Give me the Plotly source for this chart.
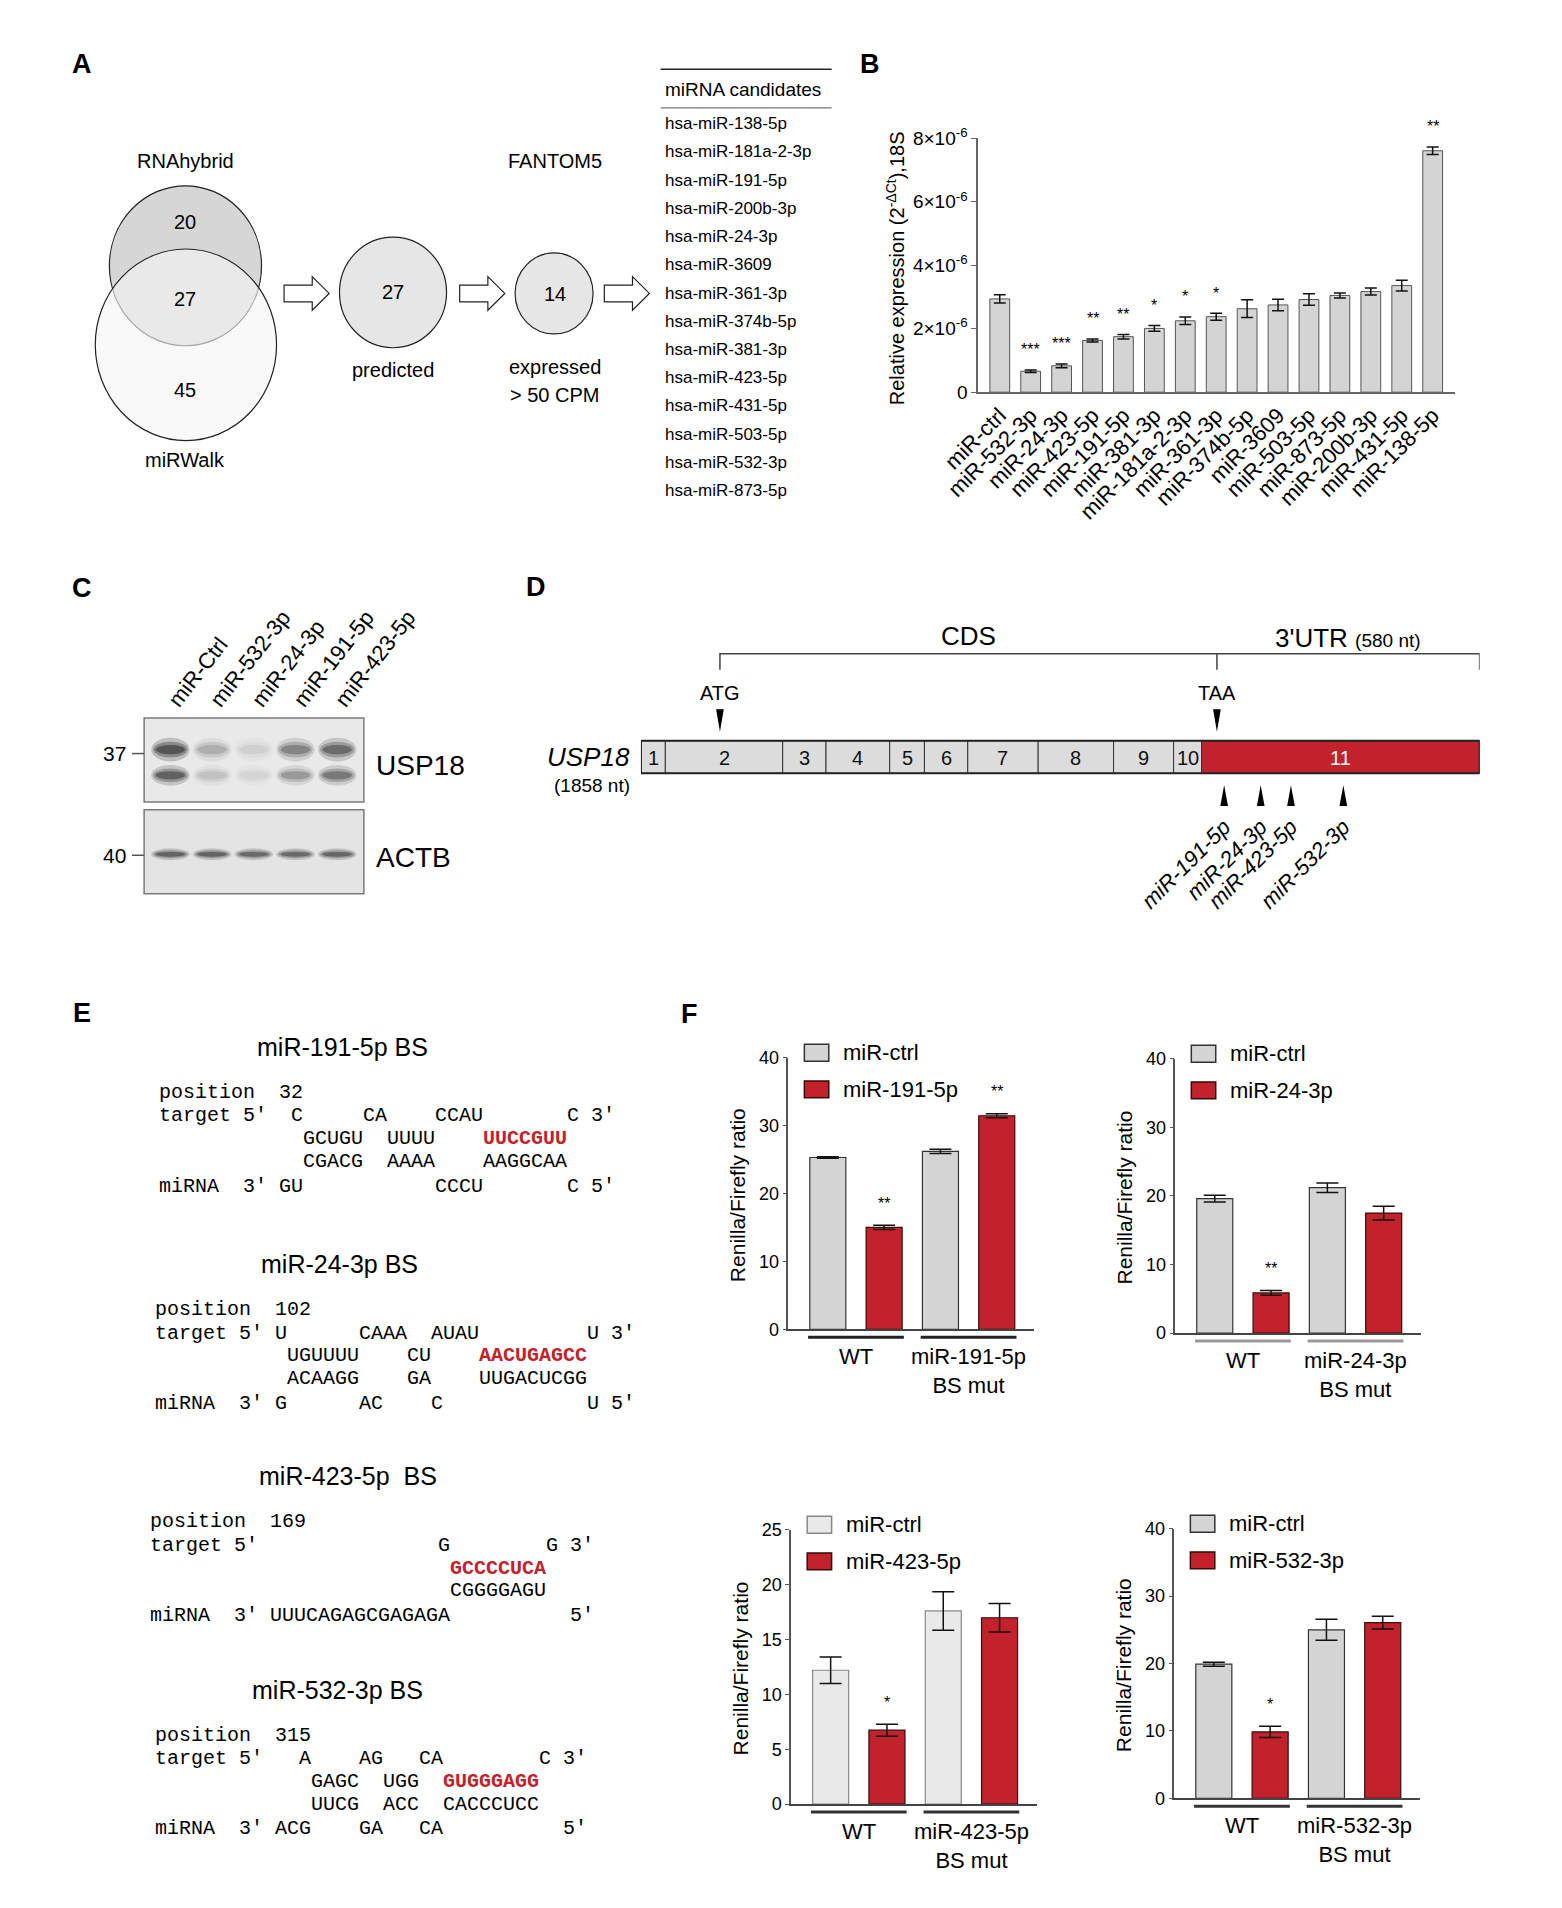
import plotly.graph_objects as go

W, H = 1562, 1908
FONT = "Liberation Sans, Arial, sans-serif"
MONO = "Liberation Mono, Courier New, monospace"
RED = "#c1222b"
GREY = "#d4d4d4"


def px(x):
    return x / W


def py(y):
    return 1 - y / H


#-------------- A: Venn / filtering
venn_counts = [20, 27, 45]          # RNAhybrid only, both, miRWalk only
n_predicted = 27
n_expressed = 14
candidates = ["hsa-miR-138-5p", "hsa-miR-181a-2-3p", "hsa-miR-191-5p", "hsa-miR-200b-3p",
              "hsa-miR-24-3p", "hsa-miR-3609", "hsa-miR-361-3p", "hsa-miR-374b-5p",
              "hsa-miR-381-3p", "hsa-miR-423-5p", "hsa-miR-431-5p", "hsa-miR-503-5p",
              "hsa-miR-532-3p", "hsa-miR-873-5p"]

#-------------- B: qPCR (x 1e-6)
b_names = ["miR-ctrl", "miR-532-3p", "miR-24-3p", "miR-423-5p", "miR-191-5p", "miR-381-3p",
           "miR-181a-2-3p", "miR-361-3p", "miR-374b-5p", "miR-3609", "miR-503-5p",
           "miR-873-5p", "miR-200b-3p", "miR-431-5p", "miR-138-5p"]
b_mean = [2.94, 0.66, 0.83, 1.63, 1.75, 2.01, 2.25, 2.38, 2.63, 2.75, 2.92, 3.05, 3.17, 3.36, 7.61]
b_err = [0.13, 0.04, 0.06, 0.05, 0.07, 0.09, 0.12, 0.11, 0.28, 0.18, 0.18, 0.08, 0.11, 0.17, 0.12]
b_sig = ["", "***", "***", "**", "**", "*", "*", "*", "", "", "", "", "", "", "**"]
b_ticks = [0, 2, 4, 6, 8]

#-------------- C: western blot
lanes = ["miR-Ctrl", "miR-532-3p", "miR-24-3p", "miR-191-5p", "miR-423-5p"]
usp18_upper = [1.0, 0.32, 0.12, 0.6, 0.8]
usp18_lower = [0.88, 0.2, 0.1, 0.45, 0.68]
actb_band = [0.85, 0.85, 0.8, 0.8, 0.82]

#-------------- D: USP18 transcript (nt)
gene_len = 1858
utr_len = 580
exon_bounds = [0, 54, 314, 410, 551, 628, 724, 880, 1047, 1180, 1242, 1858]
atg_nt = 175
taa_nt = 1276
bs_names = ["miR-191-5p", "miR-24-3p", "miR-423-5p", "miR-532-3p"]
bs_nt = [1292, 1373, 1440, 1556]

#-------------- E: binding sites (column, text)
bs_titles = ["miR-191-5p BS", "miR-24-3p BS", "miR-423-5p\u00a0\u00a0BS", "miR-532-3p BS"]
bs_pos = ["32", "102", "169", "315"]
bs_target = [
    [(7, "5'"), (11, "C"), (17, "CA"), (23, "CCAU"), (34, "C"), (36, "3'")],
    [(7, "5'"), (10, "U"), (17, "CAAA"), (23, "AUAU"), (36, "U"), (38, "3'")],
    [(7, "5'"), (24, "G"), (33, "G"), (35, "3'")],
    [(7, "5'"), (12, "A"), (17, "AG"), (22, "CA"), (32, "C"), (34, "3'")],
]
bs_pair_t = [
    [(12, "GCUGU"), (19, "UUUU"), (27, "UUCCGUU")],
    [(11, "UGUUUU"), (21, "CU"), (27, "AACUGAGCC")],
    [(25, "GCCCCUCA")],
    [(13, "GAGC"), (19, "UGG"), (24, "GUGGGAGG")],
]
bs_pair_m = [
    [(12, "CGACG"), (19, "AAAA"), (27, "AAGGCAA")],
    [(11, "ACAAGG"), (21, "GA"), (27, "UUGACUCGG")],
    [(25, "CGGGGAGU")],
    [(13, "UUCG"), (19, "ACC"), (24, "CACCCUCC")],
]
bs_mirna = [
    [(7, "3'"), (10, "GU"), (23, "CCCU"), (34, "C"), (36, "5'")],
    [(7, "3'"), (10, "G"), (17, "AC"), (23, "C"), (36, "U"), (38, "5'")],
    [(7, "3'"), (10, "UUUCAGAGCGAGAGA"), (35, "5'")],
    [(7, "3'"), (10, "ACG"), (17, "GA"), (22, "CA"), (34, "5'")],
]
bs_seed = ["UUCCGUU", "AACUGAGCC", "GCCCCUCA", "GUGGGAGG"]

#-------------- F: luciferase
f_groups = ["WT", "BS mut"]
f_mirs = ["miR-191-5p", "miR-24-3p", "miR-423-5p", "miR-532-3p"]
f_ctrl = [[25.3, 26.2], [19.6, 21.2], [12.2, 17.6], [19.9, 25.0]]
f_ctrl_err = [[0.1, 0.3], [0.5, 0.7], [1.2, 1.75], [0.3, 1.55]]
f_mir = [[15.0, 31.45], [5.86, 17.5], [6.74, 16.98], [9.85, 26.05]]
f_mir_err = [[0.3, 0.3], [0.35, 1.0], [0.55, 1.3], [0.85, 0.95]]
f_sig = [["**", "**"], ["**", ""], ["*", ""], ["*", ""]]
f_ymax = [40, 40, 25, 40]
f_dtick = [10, 10, 5, 10]


shapes = []
annotations = []
traces = []


def text(x, y, s, size=20, xanchor="center", yanchor="middle", color="black",
         angle=0, family=FONT, xref="paper", yref="paper", **kw):
    annotations.append(dict(
        x=px(x) if xref == "paper" else x, y=py(y) if yref == "paper" else y,
        xref=xref, yref=yref, text=s, showarrow=False, xanchor=xanchor, yanchor=yanchor,
        textangle=angle, font=dict(size=size, color=color, family=family), **kw))


def rect(x0, y0, x1, y1, fill, line="#333", lw=1, kind="rect"):
    shapes.append(dict(type=kind, xref="paper", yref="paper",
                       x0=px(x0), x1=px(x1), y0=py(y1), y1=py(y0),
                       fillcolor=fill, line=dict(color=line, width=lw)))


def hline(x0, x1, y, color="#333", lw=1.5):
    shapes.append(dict(type="line", xref="paper", yref="paper",
                       x0=px(x0), x1=px(x1), y0=py(y), y1=py(y),
                       line=dict(color=color, width=lw)))


#---------------- panel letters
for lab, lx, ly in [("A", 47, 52), ("B", 886, 52), ("C", 47, 582),
                    ("D", 530, 581), ("E", 47, 1013), ("F", 694, 1014)]:
    text(lx, ly, "<b>%s</b>" % lab, size=27)

#---------------- A
rect(76, 175, 238, 337, "#d6d6d6", line="#222", lw=1.2, kind="circle")
rect(61, 239, 254, 433, "rgba(245,245,245,0.62)", line="#222", lw=1.2, kind="circle")
text(157, 150, "RNAhybrid")
text(157, 453, "miRWalk")
text(157, 212, str(venn_counts[0]))
text(157, 290, str(venn_counts[1]))
text(157, 382, str(venn_counts[2]))

rect(321, 227, 435, 339, "#e6e6e6", line="#222", lw=1.2, kind="circle")
text(378, 283, str(n_predicted))
text(378, 362, "predicted")
rect(508, 243, 591, 325, "#e6e6e6", line="#222", lw=1.2, kind="circle")
text(550, 285, str(n_expressed))
text(550, 150, "FANTOM5")
text(550, 359, "expressed")
text(550, 387, "&gt; 50 CPM")

for ax0 in [262, 449, 603]:
    yc = 284
    pts = [(ax0, yc - 8.5), (ax0 + 30, yc - 8.5), (ax0 + 30, yc - 17), (ax0 + 48, yc),
           (ax0 + 30, yc + 17), (ax0 + 30, yc + 8.5), (ax0, yc + 8.5)]
    path = "M " + " L ".join("%.5f,%.5f" % (px(a), py(b)) for a, b in pts) + " Z"
    shapes.append(dict(type="path", xref="paper", yref="paper", path=path,
                       fillcolor="white", line=dict(color="#222", width=1.2)))

hline(663, 845, 57, color="#222", lw=1.5)
hline(663, 845, 96, color="#777", lw=1.2)
text(666, 77, "miRNA candidates", size=19, xanchor="left")
for i, name in enumerate(candidates):
    text(666, 112 + 28.6 * i, name, size=17, xanchor="left")

#---------------- B
traces.append(go.Bar(
    x=b_names, y=[v * 1e-6 for v in b_mean],
    error_y=dict(type="data", array=[e * 1e-6 for e in b_err], color="#111", thickness=1.5, width=6),
    marker=dict(color=GREY, line=dict(color="#555", width=1)),
    xaxis="x", yaxis="y", hoverinfo="skip"))
for name, m, e, s in zip(b_names, b_mean, b_err, b_sig):
    if s:
        text(name, (m + e) * 1e-6, s, size=16, xref="x", yref="y", yshift=20)
text(913, 258, "Relative expression (2<sup>-ΔCt</sup>),18S", size=20, angle=-90)

#---------------- C
traces.append(go.Scatter(x=lanes, y=[0.5] * len(lanes), mode="markers",
                         marker=dict(opacity=0), xaxis="x6", yaxis="y6", hoverinfo="skip"))
rect(113, 714, 347, 799, "#e9e9e9", line="#7a7a7a", lw=1.5)
rect(113, 807, 347, 892, "#e4e4e4", line="#7a7a7a", lw=1.5)


def band(i, yc, inten, h):
    for hw, hh, op in [(0.46, h * 1.5, 0.2), (0.41, h, 0.3), (0.35, h * 0.6, 0.45)]:
        shapes.append(dict(type="circle", xref="x6", yref="paper",
                           x0=i - hw, x1=i + hw, y0=py(yc + hh / 2), y1=py(yc - hh / 2),
                           fillcolor="#151515", opacity=op * inten, line=dict(width=0)))


for i in range(len(lanes)):
    band(i, 746, usp18_upper[i], 16)
    band(i, 772, usp18_lower[i], 14)
    band(i, 852, actb_band[i], 8)

hline(100, 113, 750, color="#555", lw=1.5)
hline(100, 113, 853, color="#555", lw=1.5)
text(96, 750, "37", size=21, xanchor="right")
text(96, 853, "40", size=21, xanchor="right")
text(358, 762, "USP18", size=28, xanchor="left")
text(358, 855, "ACTB", size=28, xanchor="left")

#---------------- D
traces.append(go.Scatter(x=bs_nt, y=[0.5] * len(bs_nt), mode="markers",
                         marker=dict(opacity=0), xaxis="x7", yaxis="y7", hoverinfo="skip"))
for i in range(len(exon_bounds) - 1):
    last = i == len(exon_bounds) - 2
    shapes.append(dict(type="rect", xref="x7", yref="paper",
                       x0=exon_bounds[i], x1=exon_bounds[i + 1], y0=py(770), y1=py(737),
                       fillcolor=RED if last else "#dcdcdc", line=dict(color="#333", width=1)))
    text((exon_bounds[i] + exon_bounds[i + 1]) / 2, 754, str(i + 1), size=20,
         color="white" if last else "#111", xref="x7")
shapes.append(dict(type="rect", xref="x7", yref="paper", x0=0, x1=gene_len,
                   y0=py(770), y1=py(737), line=dict(color="#222", width=2)))

tri = 8.5
for x in [atg_nt, taa_nt]:
    shapes.append(dict(type="path", xref="x7", yref="paper",
                       path="M %.1f,%.5f L %.1f,%.5f L %.1f,%.5f Z" % (
                           x - tri, py(705), x + tri, py(705), x, py(728)),
                       fillcolor="black", line=dict(width=0)))
for x in bs_nt:
    shapes.append(dict(type="path", xref="x7", yref="paper",
                       path="M %.1f,%.5f L %.1f,%.5f L %.1f,%.5f Z" % (
                           x - tri, py(803), x + tri, py(803), x, py(782)),
                       fillcolor="black", line=dict(width=0)))
shapes.append(dict(type="path", xref="x7", yref="paper",
                   path="M %d,%.5f L %d,%.5f L %d,%.5f L %d,%.5f M %d,%.5f L %d,%.5f" % (
                       atg_nt, py(665), atg_nt, py(649), gene_len, py(649), gene_len, py(665),
                       taa_nt, py(649), taa_nt, py(665)),
                   line=dict(color="#444", width=1.5)))
text((atg_nt + taa_nt) / 2, 631, "CDS", size=26, xref="x7")
text((taa_nt + gene_len) / 2, 633,
     "3'UTR <span style='font-size:19px'>(%d nt)</span>" % utr_len, size=26, xref="x7")
text(atg_nt, 689, "ATG", size=20, xref="x7")
text(taa_nt, 689, "TAA", size=20, xref="x7")
text(632, 753, "<i>USP18</i>", size=26, xanchor="right")
text(632, 782, "(%d nt)" % gene_len, size=19, xanchor="right")

#---------------- E
def mono_row(tokens, seed=None):
    out, cur = "", 0
    for col, tok in tokens:
        out += "\u00a0" * max(col - cur, 0)
        out += ("<span style='color:%s'><b>%s</b></span>" % (RED, tok)) if tok == seed else tok
        cur = col + len(tok)
    return out


e_title_y = [1047, 1267, 1482, 1698]
e_title_x = [324, 321, 330, 319]
e_left = [127, 122, 117, 122]
row_dy = [46, 70, 93, 116, 141]
for k in range(4):
    text(e_title_x[k], e_title_y[k], bs_titles[k], size=25)
    rows = [
        [(0, "position"), (10, bs_pos[k])],
        [(0, "target")] + bs_target[k],
        bs_pair_t[k],
        bs_pair_m[k],
        [(0, "miRNA")] + bs_mirna[k],
    ]
    for r, dy in zip(rows, row_dy):
        text(e_left[k], e_title_y[k] + dy, mono_row(r, bs_seed[k]), size=20,
             xanchor="left", family=MONO, color="#000")

#---------------- F
f_left = [799, 1211, 802, 1210]
f_zero = [1333, 1337, 1814, 1808]
f_top = [1058, 1059, 1536, 1535]
f_ctrl_fill = [GREY, GREY, "#e9e9e9", GREY]
f_ctrl_line = ["#333", "#333", "#888", "#333"]
f_under = ["#222", "#999", "#333", "#333"]
f_width = 262
f_range = [-0.6, 1.585]
unit = f_width / (f_range[1] - f_range[0])

axes = {}
for k in range(4):
    n = k + 2
    ax, ay = "x%d" % n, "y%d" % n
    err_style = dict(type="data", color="#111", thickness=1.5, width=11)
    traces.append(go.Bar(x=f_groups, y=f_ctrl[k], error_y=dict(array=f_ctrl_err[k], **err_style),
                         marker=dict(color=f_ctrl_fill[k], line=dict(color=f_ctrl_line[k], width=1.2)),
                         xaxis=ax, yaxis=ay, hoverinfo="skip"))
    traces.append(go.Bar(x=f_groups, y=f_mir[k], error_y=dict(array=f_mir_err[k], **err_style),
                         marker=dict(color=RED, line=dict(color="#3a0b0b", width=1.2)),
                         xaxis=ax, yaxis=ay, hoverinfo="skip"))
    axes["xaxis%d" % n] = dict(domain=[px(f_left[k]), px(f_left[k] + f_width)], anchor=ay,
                               range=f_range, showticklabels=False, ticks="", showline=True,
                               linecolor="#444", linewidth=2, showgrid=False, zeroline=False)
    axes["yaxis%d" % n] = dict(domain=[py(f_zero[k]), py(f_top[k])], anchor=ax,
                               range=[0, f_ymax[k]], dtick=f_dtick[k], ticks="outside", ticklen=4,
                               tickcolor="#555", showline=True, linecolor="#555", linewidth=1.5,
                               showgrid=False, zeroline=False, tickfont=dict(size=18))
    for g, (m, e, s) in enumerate(zip(f_mir[k], f_mir_err[k], f_sig[k])):
        if s:
            annotations.append(dict(x=g + 0.25, y=m + e, xref=ax, yref=ay, text=s, showarrow=False,
                                    yshift=22, font=dict(size=16, family=FONT, color="black")))
    # group underlines and labels
    for g, lab in enumerate(["WT", "%s<br>BS mut" % f_mirs[k]]):
        cx = f_left[k] + (g - f_range[0]) * unit
        hline(cx - 51, cx + 51, f_zero[k] + 8, color=f_under[k], lw=3)
        text(cx, f_zero[k] + 13, lab, size=22, yanchor="top")
    # legend
    lx = f_left[k]
    for j, (fill, line, lab) in enumerate([(f_ctrl_fill[k], f_ctrl_line[k], "miR-ctrl"),
                                           (RED, "#3a0b0b", f_mirs[k])]):
        cy = f_top[k] - 5 + 37 * j
        rect(lx + 17, cy - 8.5, lx + 43, cy + 8.5, fill, line=line, lw=1.5)
        text(lx + 56, cy, lab, size=22, xanchor="left")
    text(f_left[k] - 54, (f_zero[k] + f_top[k]) / 2 + 2, "Renilla/Firefly ratio", size=21, angle=-90)


fig = go.Figure(data=traces)
fig.update_layout(
    width=W, height=H, margin=dict(l=0, r=0, t=0, b=0),
    paper_bgcolor="white", plot_bgcolor="white",
    font=dict(family=FONT, size=18, color="black"),
    showlegend=False, barmode="group", bargap=0, bargroupgap=0.36,
    xaxis=dict(domain=[px(1001), px(1509)], anchor="y", range=[-0.7, 14.73],
               showline=True, linecolor="#666", linewidth=1.5, ticks="", tickangle=-45,
               tickfont=dict(size=22), showgrid=False, zeroline=False),
    yaxis=dict(domain=[py(384), py(127)], anchor="x", range=[0, 8e-6],
               tickvals=[t * 1e-6 for t in b_ticks],
               ticktext=["0" if t == 0 else "%d×10<sup>-6</sup>" % t for t in b_ticks],
               showline=True, linecolor="#666", linewidth=1.5, ticks="outside", ticklen=5,
               tickcolor="#666", showgrid=False, zeroline=False, tickfont=dict(size=19)),
    xaxis6=dict(domain=[px(113), px(347)], anchor="y6", side="top", range=[-0.63, 4.64],
                tickangle=-52, tickfont=dict(size=22), ticks="", showline=False,
                showgrid=False, zeroline=False),
    yaxis6=dict(domain=[py(892), py(714)], anchor="x6", range=[0, 1], visible=False),
    xaxis7=dict(domain=[px(642), px(1535)], anchor="y7", range=[0, gene_len],
                tickvals=bs_nt, ticktext=["<i>%s</i>" % s for s in bs_names], tickangle=-45,
                tickfont=dict(size=22), ticks="", showline=False, showgrid=False, zeroline=False),
    yaxis7=dict(domain=[py(806), py(600)], anchor="x7", range=[0, 1], visible=False),
    shapes=shapes, annotations=annotations,
    **axes
)

fig.write_html("out.html", config={"displayModeBar": False},
               post_script="document.body.style.margin='0px';")
